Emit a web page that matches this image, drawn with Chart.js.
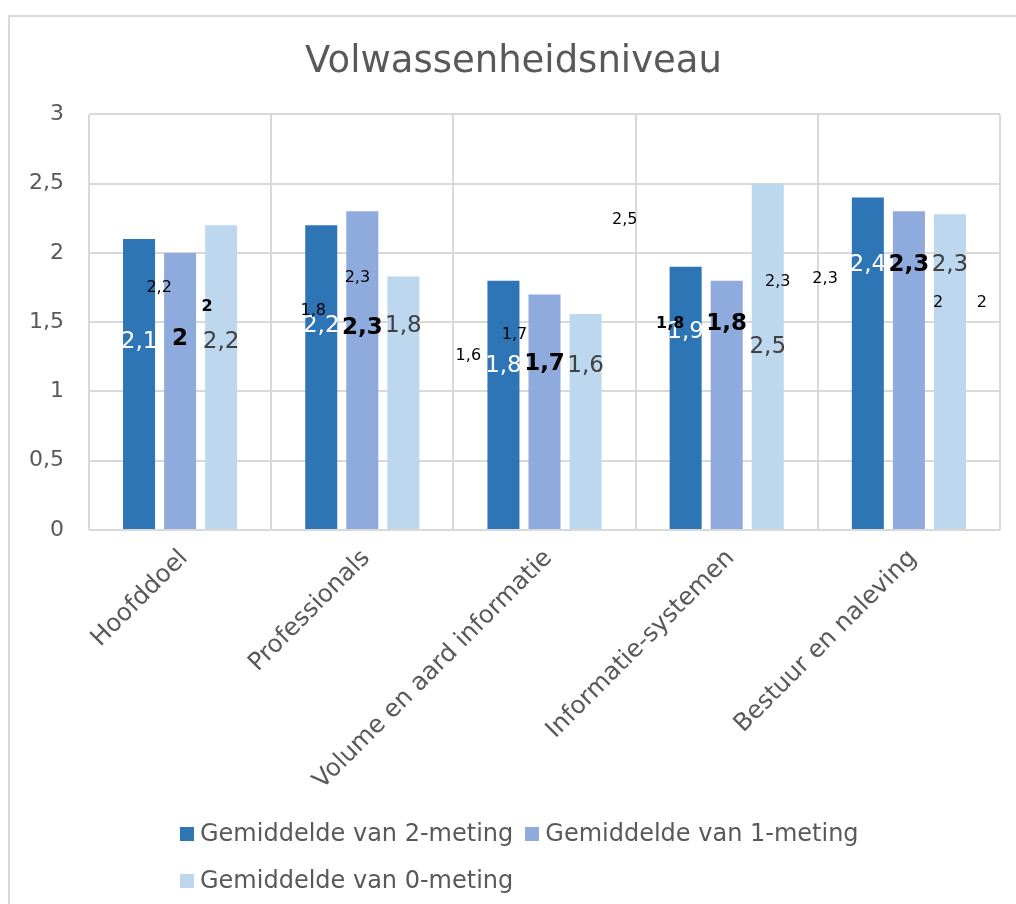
<!DOCTYPE html>
<html>
<head>
<meta charset="utf-8">
<script src="https://cdn.jsdelivr.net/npm/chart.js@4.4.1/dist/chart.umd.min.js"></script>
<style>
    html, body { margin: 0; padding: 0; background: #fff; }
    body { width: 1016px; height: 904px; position: relative; overflow: hidden; font-family: "DejaVu Sans", Verdana, sans-serif; }
    #frame { position: absolute; left: 8px; top: 15px; width: 1100px; height: 1000px; border: 2px solid #d9d9d9; box-sizing: border-box; }
    #wrap { position: absolute; left: 0; top: 0; width: 1016px; height: 812px; }
    #legend { position: absolute; left: 180px; top: 810px; width: 720px; font-size: 24px; color: #595959; line-height: 47px; }
    #legend span.item { display: inline-block; margin-right: 12px; white-space: nowrap; }
    #legend span.box { display: inline-block; width: 14px; height: 14px; margin-right: 6px; }
</style>
</head>
<body>
<div id="frame"></div>
<div id="wrap"><canvas id="chart"></canvas></div>
<div id="legend"></div>
<script>
// --- data ---
const chartTitle = 'Volwassenheidsniveau';
const categories = ['Hoofddoel', 'Professionals', 'Volume en aard informatie', 'Informatie-systemen', 'Bestuur en naleving'];
const seriesNames = ['Gemiddelde van 2-meting', 'Gemiddelde van 1-meting', 'Gemiddelde van 0-meting'];
const meting2 = [2.1, 2.2, 1.8, 1.9, 2.4];
const meting1 = [2.0, 2.3, 1.7, 1.8, 2.3];
const meting0 = [2.2, 1.83, 1.56, 2.5, 2.28];
const yTicks = [0, 0.5, 1, 1.5, 2, 2.5, 3];

// stray labels left over in the original picture: [text, category position, value level, bold]
const strayLabels = [
    ['2,2', -0.115, 1.75, false], ['2', 0.148, 1.61, true],
    ['1,8', 0.731, 1.58, false], ['2,3', 0.973, 1.82, false],
    ['1,6', 1.582, 1.26, false], ['1,7', 1.835, 1.41, false], ['2,5', 2.44, 2.24, false],
    ['1,8', 2.69, 1.49, true], ['2,3', 3.28, 1.79, false],
    ['2,3', 3.54, 1.81, false], ['2', 4.16, 1.64, false], ['2', 4.40, 1.64, false]
];

// where the value labels sit on the y scale (per series, per category)
const labelLevels = [
    [1.36, 1.47, 1.18, 1.43, 1.91],
    [1.38, 1.46, 1.20, 1.49, 1.91],
    [1.36, 1.47, 1.18, 1.32, 1.91]
];

const FONT = '"DejaVu Sans", Verdana, sans-serif';
const TEXT = '#595959';
const GRID = '#d9d9d9';
const colors = ['#2e75b6', '#8faadc', '#bdd7ee'];
const labelStyles = [
    { color: '#ffffff', font: '23px ' + FONT },
    { color: '#000000', font: 'bold 23px ' + FONT },
    { color: '#404040', font: '23px ' + FONT }
];

const fmt = v => String(Number(v.toFixed(1))).replace('.', ',');

// --- value labels plugin ---
const barLabels = {
    id: 'barLabels',
    afterDatasetsDraw(chart) {
        const ctx = chart.ctx;
        const xs = chart.scales.x, ys = chart.scales.y;
        ctx.save();
        ctx.textAlign = 'center';
        ctx.textBaseline = 'middle';
        chart.data.datasets.forEach((ds, i) => {
            const meta = chart.getDatasetMeta(i);
            ctx.font = labelStyles[i].font;
            ctx.fillStyle = labelStyles[i].color;
            meta.data.forEach((bar, j) => {
                ctx.fillText(fmt(ds.data[j]), bar.x, ys.getPixelForValue(labelLevels[i][j]));
            });
        });
        ctx.fillStyle = '#000';
        strayLabels.forEach(([txt, cx, lvl, bold]) => {
            ctx.font = (bold ? 'bold ' : '') + '16px ' + FONT;
            ctx.fillText(txt, xs.getPixelForValue(cx), ys.getPixelForValue(lvl));
        });
        ctx.restore();
    }
};

const series = [meting2, meting1, meting0];
const chart = new Chart(document.getElementById('chart'), {
    type: 'bar',
    data: {
        labels: categories,
        datasets: series.map((d, i) => ({
            label: seriesNames[i],
            data: d,
            backgroundColor: colors[i],
            borderWidth: 0,
            categoryPercentage: 0.676,
            barPercentage: 0.78
        }))
    },
    options: {
        responsive: true,
        maintainAspectRatio: false,
        animation: false,
        layout: { padding: { left: 27, right: 16, top: 0, bottom: 0 } },
        plugins: {
            legend: { display: false },
            tooltip: { enabled: false },
            title: {
                display: true,
                text: chartTitle,
                color: TEXT,
                font: { family: FONT, size: 37, weight: 'normal' },
                padding: { top: 40, bottom: 30 }
            }
        },
        scales: {
            x: {
                grid: { color: GRID, lineWidth: 2, drawTicks: false, offset: true },
                border: { display: false },
                ticks: {
                    color: TEXT,
                    font: { family: FONT, size: 24.5 },
                    minRotation: 45,
                    maxRotation: 45,
                    labelOffset: 4,
                    padding: 14
                },
                afterFit: s => { s.height = 282; }
            },
            y: {
                min: 0,
                max: 3,
                afterBuildTicks: s => { s.ticks = yTicks.map(v => ({ value: v })); },
                grid: { color: GRID, lineWidth: 2, drawTicks: false },
                border: { display: false },
                ticks: {
                    color: TEXT,
                    font: { family: FONT, size: 22 },
                    padding: 25,
                    callback: v => String(v).replace('.', ',')
                },
                afterFit: s => { s.width = 62; }
            }
        }
    },
    plugins: [barLabels]
});

// --- legend (html, wraps into two rows like the original) ---
const legendEl = document.getElementById('legend');
chart.data.datasets.forEach(ds => {
    const item = document.createElement('span');
    item.className = 'item';
    const box = document.createElement('span');
    box.className = 'box';
    box.style.background = ds.backgroundColor;
    item.appendChild(box);
    item.appendChild(document.createTextNode(ds.label));
    legendEl.appendChild(item);
});
</script>
</body>
</html>
